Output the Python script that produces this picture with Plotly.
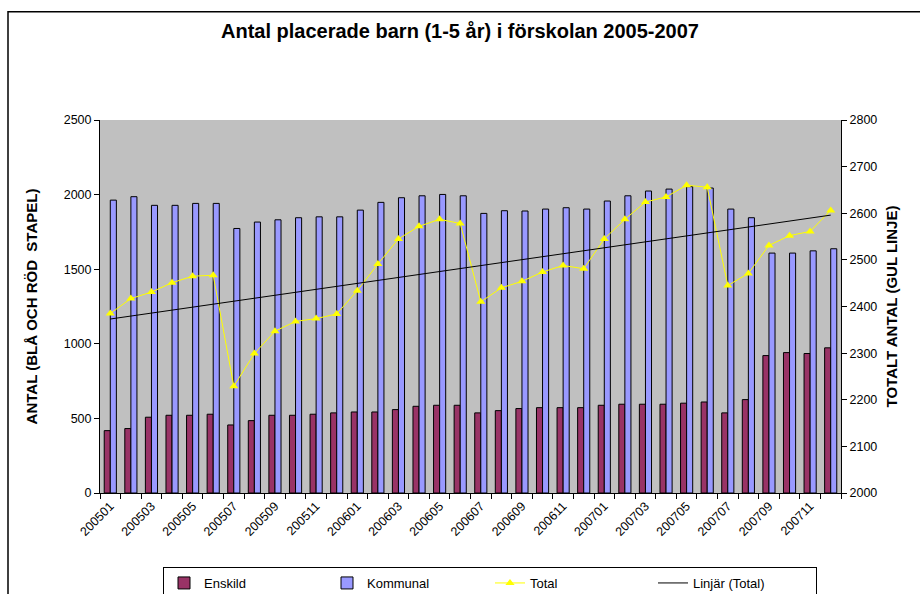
import numpy as np
import plotly.graph_objects as go

months = ["200501","200502","200503","200504","200505","200506","200507","200508","200509","200510","200511","200512",
          "200601","200602","200603","200604","200605","200606","200607","200608","200609","200610","200611","200612",
          "200701","200702","200703","200704","200705","200706","200707","200708","200709","200710","200711","200712"]

enskild = [418, 432, 508, 521, 521, 528, 456, 485, 521, 521, 528, 537,
           543, 543, 559, 581, 588, 588, 537, 552, 566, 572, 572, 572,
           588, 595, 595, 595, 602, 610, 537, 626, 921, 941, 935, 973]

kommunal = [1963, 1986, 1928, 1928, 1941, 1941, 1773, 1816, 1831, 1845, 1851, 1851,
            1896, 1948, 1979, 1992, 2001, 1992, 1874, 1892, 1890, 1903, 1912, 1903,
            1957, 1992, 2024, 2037, 2053, 2044, 1903, 1845, 1608, 1608, 1623, 1637]

total = [2385, 2417, 2431, 2451, 2465, 2467, 2229, 2299, 2347, 2368, 2374, 2384,
         2434, 2491, 2545, 2572, 2587, 2578, 2410, 2440, 2454, 2474, 2488, 2481,
         2545, 2587, 2624, 2635, 2660, 2656, 2445, 2471, 2531, 2552, 2561, 2606]

left_ticks = [0, 500, 1000, 1500, 2000, 2500]
right_ticks = [2000, 2100, 2200, 2300, 2400, 2500, 2600, 2700, 2800]

idx = np.arange(len(months))
slope, intercept = np.polyfit(idx, np.array(total, dtype=float), 1)
trend = slope * idx + intercept

FONT = "Liberation Sans, Arial, sans-serif"

fig = go.Figure()
fig.add_trace(go.Bar(x=idx, y=enskild, name="Enskild",
                     marker=dict(color="#993366", line=dict(color="black", width=1))))
fig.add_trace(go.Bar(x=idx, y=kommunal, name="Kommunal",
                     marker=dict(color="#9999FF", line=dict(color="black", width=1))))
fig.add_trace(go.Scatter(x=idx, y=total, name="Total", yaxis="y2", mode="lines+markers",
                         line=dict(color="#FFFF00", width=1),
                         marker=dict(symbol="triangle-up", size=8, color="#FFFF00")))
fig.add_trace(go.Scatter(x=idx, y=trend, name="Linjär (Total)", yaxis="y2", mode="lines",
                         line=dict(color="black", width=1)))

fig.update_layout(
    width=920, height=594,
    margin=dict(l=100, r=79, t=120, b=101, autoexpand=False),
    paper_bgcolor="white", plot_bgcolor="#C0C0C0",
    font=dict(family=FONT, size=12, color="black"),
    title=dict(text="<b>Antal placerade barn (1-5 år) i förskolan 2005-2007</b>",
               x=0.5, xanchor="center", y=1 - 31/594, yanchor="middle",
               font=dict(family=FONT, size=20, color="black")),
    barmode="group", bargap=0.41, bargroupgap=0,
    showlegend=True,
    legend=dict(orientation="h", xref="container", yref="container",
                x=490/920, xanchor="center", y=1 - 567/594, yanchor="top",
                bordercolor="black", borderwidth=1, bgcolor="white",
                font=dict(family=FONT, size=13), entrywidth=118,
                traceorder="normal"),
    xaxis=dict(range=[-0.5, len(months) - 0.5], automargin=False,
               tickmode="array", tickvals=idx[::2].tolist(), ticktext=months[::2],
               tickangle=-45, ticks="", showgrid=False, zeroline=False,
               showline=True, linecolor="black", linewidth=1,
               tickfont=dict(family=FONT, size=12.5),
               minor=dict(tickmode="array", tickvals=(idx - 0.5).tolist() + [len(months) - 0.5],
                          ticks="outside", ticklen=5, tickcolor="black", showgrid=False)),
    yaxis=dict(range=[0, 2500], tickvals=left_ticks, ticks="outside", ticklen=5,
               tickcolor="black", showgrid=False, zeroline=False, automargin=False,
               showline=True, linecolor="black", linewidth=1,
               tickfont=dict(family=FONT, size=12.5),
               title=dict(text="<b>ANTAL (BLÅ OCH RÖD  STAPEL)</b>",
                          font=dict(family=FONT, size=15), standoff=22)),
    yaxis2=dict(range=[2000, 2800], tickvals=right_ticks, overlaying="y", side="right",
                ticks="outside", ticklen=5, tickcolor="black", showgrid=False, automargin=False,
                zeroline=False, showline=True, linecolor="black", linewidth=1,
                tickfont=dict(family=FONT, size=12.5),
                title=dict(text="<b>TOTALT ANTAL (GUL LINJE)</b>",
                           font=dict(family=FONT, size=15), standoff=10)),
    shapes=[dict(type="rect", xref="paper", yref="paper",
                 x0=(8 - 100)/741, x1=1.2, y0=-0.5, y1=(493 - 11.7)/373,
                 line=dict(color="black", width=1.5), fillcolor="rgba(0,0,0,0)", layer="below")],
)

fig.write_html("out.html", config={"displayModeBar": False},
               post_script="document.body.style.margin='0';document.body.style.overflow='hidden';")
